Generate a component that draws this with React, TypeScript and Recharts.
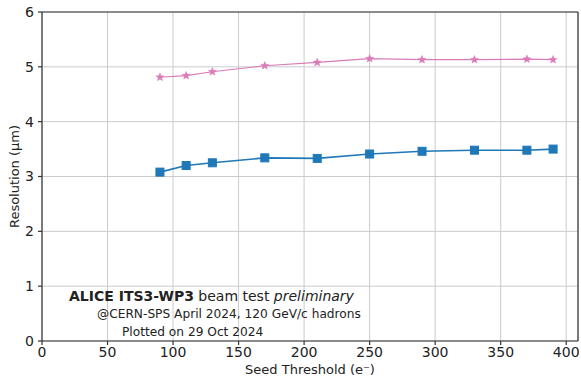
import { CartesianGrid, Line, LineChart, ReferenceLine, XAxis, YAxis } from "recharts"

const thresholds = [90, 110, 130, 170, 210, 250, 290, 330, 370, 390]
const resolutionPink = [4.81, 4.84, 4.91, 5.02, 5.08, 5.15, 5.13, 5.13, 5.14, 5.13]
const resolutionBlue = [3.08, 3.2, 3.25, 3.34, 3.33, 3.41, 3.46, 3.48, 3.48, 3.5]
const xTicks = [0, 50, 100, 150, 200, 250, 300, 350, 400]
const yTicks = [0, 1, 2, 3, 4, 5, 6]

const data = thresholds.map((x, i) => ({ x, pink: resolutionPink[i], blue: resolutionBlue[i] }))

const BLUE = "#1f78b8"
const PINK = "#d97bb6"
const FONT = "DejaVu Sans, sans-serif"

function SquareDot(props: any) {
  const { cx, cy } = props
  if (cx == null || cy == null) return null
  const s = 8
  return <rect x={cx - s / 2} y={cy - s / 2} width={s} height={s} fill={BLUE} stroke={BLUE} />
}

function StarDot(props: any) {
  const { cx, cy } = props
  if (cx == null || cy == null) return null
  const outer = 4.2
  const inner = 1.8
  const pts: string[] = []
  for (let i = 0; i < 10; i++) {
    const r = i % 2 === 0 ? outer : inner
    const a = -Math.PI / 2 + (i * Math.PI) / 5
    pts.push(`${cx + r * Math.cos(a)},${cy + r * Math.sin(a)}`)
  }
  return <polygon points={pts.join(" ")} fill={PINK} stroke={PINK} strokeWidth={0.5} />
}

export default function App() {
  return (
    <div style={{ position: "absolute", left: 0, top: 0, width: 581, height: 378, background: "#fff" }}>
      <LineChart width={581} height={378} data={data} margin={{ top: 12, right: 3, bottom: 0, left: 0 }}>
        <CartesianGrid stroke="#cbcbcb" strokeWidth={1} />
        <XAxis
          type="number"
          dataKey="x"
          domain={[0, 409]}
          ticks={xTicks}
          allowDataOverflow
          height={37}
          stroke="#333"
          strokeWidth={1.2}
          tickSize={4}
          tickMargin={2}
          tick={{ fill: "#222", fontSize: 14, fontFamily: FONT }}
          label={{ value: "Seed Threshold (e⁻)", position: "insideBottom", offset: 4, fill: "#222", fontSize: 13, fontFamily: FONT }}
        />
        <YAxis
          type="number"
          domain={[0, 6]}
          ticks={yTicks}
          width={42}
          stroke="#333"
          strokeWidth={1.2}
          tickSize={4}
          tickMargin={4}
          tick={{ fill: "#222", fontSize: 14, fontFamily: FONT }}
          label={{
            value: "Resolution (μm)",
            angle: -90,
            position: "insideLeft",
            offset: 14,
            fill: "#222",
            fontSize: 13,
            fontFamily: FONT,
            style: { textAnchor: "middle" },
          }}
        />
        <ReferenceLine y={6} stroke="#333" strokeWidth={1.2} />
        <ReferenceLine x={409} stroke="#333" strokeWidth={1.2} />
        <Line dataKey="pink" stroke={PINK} strokeWidth={1.2} dot={<StarDot />} isAnimationActive={false} />
        <Line dataKey="blue" stroke={BLUE} strokeWidth={1.6} dot={<SquareDot />} isAnimationActive={false} />
      </LineChart>
      <svg width={581} height={378} style={{ position: "absolute", left: 0, top: 0, pointerEvents: "none" }}>
        <text x={69} y={301} fontFamily={FONT} fontSize={14} fill="#222">
          <tspan fontWeight="bold">ALICE ITS3-WP3</tspan>
          <tspan> beam test </tspan>
          <tspan fontStyle="italic">preliminary</tspan>
        </text>
        <text x={97} y={318} fontFamily={FONT} fontSize={12.2} fill="#222">
          @CERN-SPS April 2024, 120 GeV/c hadrons
        </text>
        <text x={122} y={336} fontFamily={FONT} fontSize={12.2} fill="#222">
          Plotted on 29 Oct 2024
        </text>
      </svg>
    </div>
  )
}
